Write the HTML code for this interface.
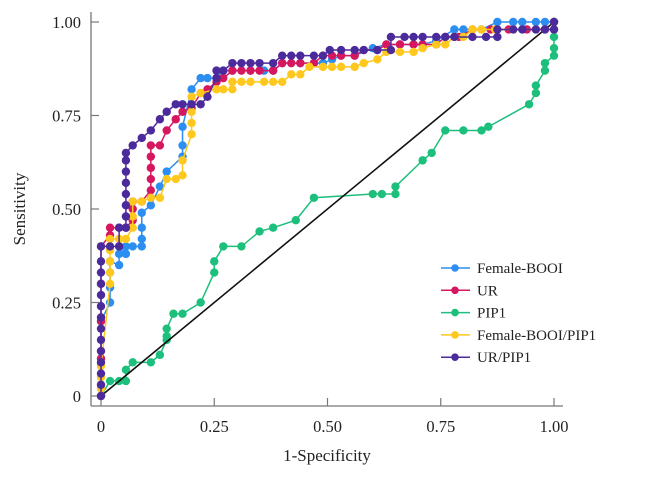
<!DOCTYPE html>
<html><head><meta charset="utf-8"><style>
html,body{margin:0;padding:0;background:#fff;width:662px;height:481px;overflow:hidden}
svg{display:block;font-family:"Liberation Serif",serif}
</style></head><body>
<svg id="chart" width="662" height="481" viewBox="0 0 662 481"></svg>
<script>
const xTicks=[0,0.25,0.5,0.75,1];
const xTickLabels=["0","0.25","0.50","0.75","1.00"];
const yTicks=[0,0.25,0.5,0.75,1];
const yTickLabels=["0","0.25","0.50","0.75","1.00"];
const seriesNames=["Female-BOOI","UR","PIP1","Female-BOOI/PIP1","UR/PIP1"];
const seriesColors=["#2b8ef0","#d6175f","#1dbf7c","#ffc81e","#4b2a9c"];
const femaleBooi=[[0,0],[0,.1],[0,.2],[.02,.25],[.02,.29],[.02,.33],[.02,.36],[.04,.35],[.04,.38],[.04,.40],[.055,.38],[.055,.40],[.07,.40],[.09,.40],[.09,.42],[.09,.45],[.09,.49],[.11,.51],[.13,.56],[.145,.60],[.18,.64],[.18,.67],[.18,.72],[.20,.82],[.22,.85],[.235,.85],[.255,.85],[.27,.87],[.29,.87],[.33,.87],[.36,.87],[.38,.87],[.40,.89],[.44,.89],[.47,.89],[.49,.89],[.51,.90],[.53,.91],[.56,.91],[.60,.93],[.63,.94],[.66,.94],[.69,.94],[.71,.94],[.74,.95],[.78,.98],[.80,.98],[.84,.98],[.875,1],[.91,1],[.93,1],[.96,1],[.98,1],[1,1]];
const ur=[[0,0],[0,.1],[0,.2],[0,.3],[0,.4],[.02,.43],[.02,.45],[.04,.45],[.055,.45],[.07,.47],[.07,.50],[.07,.52],[.09,.52],[.11,.55],[.11,.58],[.11,.61],[.11,.64],[.11,.67],[.13,.67],[.145,.71],[.165,.74],[.18,.76],[.20,.77],[.22,.81],[.235,.82],[.255,.84],[.27,.85],[.29,.87],[.31,.87],[.33,.87],[.35,.87],[.38,.87],[.40,.89],[.42,.89],[.44,.89],[.47,.89],[.49,.91],[.51,.91],[.53,.91],[.56,.91],[.58,.925],[.61,.925],[.63,.94],[.66,.94],[.69,.94],[.71,.94],[.74,.94],[.76,.96],[.79,.96],[.82,.98],[.86,.98],[.9,.98],[.94,.98],[.98,.98],[1,.98],[1,1]];
const pip1=[[0,0],[.02,.04],[.04,.04],[.055,.04],[.055,.07],[.07,.09],[.11,.09],[.13,.11],[.145,.15],[.145,.16],[.145,.18],[.16,.22],[.18,.22],[.22,.25],[.25,.33],[.25,.36],[.27,.40],[.31,.40],[.35,.44],[.38,.45],[.43,.47],[.47,.53],[.60,.54],[.62,.54],[.65,.54],[.65,.56],[.71,.63],[.73,.65],[.76,.71],[.80,.71],[.84,.71],[.855,.72],[.945,.78],[.96,.81],[.96,.83],[.98,.87],[.98,.89],[1,.91],[1,.93],[1,.96],[1,1]];
const femaleBooiPip1=[[0,0],[0,.02],[0,.05],[0,.08],[.02,.30],[.02,.33],[.02,.36],[.02,.39],[.02,.42],[.04,.42],[.055,.42],[.07,.45],[.07,.48],[.07,.52],[.09,.52],[.11,.53],[.13,.53],[.145,.58],[.165,.58],[.18,.59],[.18,.63],[.20,.70],[.20,.73],[.20,.76],[.20,.80],[.22,.81],[.255,.82],[.27,.82],[.29,.82],[.29,.84],[.31,.84],[.33,.84],[.36,.84],[.38,.84],[.40,.84],[.42,.86],[.44,.86],[.46,.88],[.49,.88],[.51,.88],[.53,.88],[.56,.88],[.58,.89],[.61,.90],[.63,.92],[.66,.92],[.69,.92],[.71,.93],[.74,.94],[.76,.94],[.78,.96],[.80,.96],[.82,.98],[.84,.98],[.87,.98],[.91,.98],[.96,.98],[1,.98],[1,1]];
const urPip1=[[0,0],[0,.03],[0,.06],[0,.09],[0,.12],[0,.15],[0,.18],[0,.21],[0,.24],[0,.27],[0,.30],[0,.33],[0,.36],[0,.40],[.02,.40],[.04,.40],[.04,.45],[.055,.45],[.055,.48],[.055,.51],[.055,.54],[.055,.57],[.055,.60],[.055,.63],[.055,.65],[.07,.67],[.09,.69],[.11,.71],[.13,.74],[.145,.76],[.165,.78],[.18,.78],[.20,.78],[.22,.78],[.235,.80],[.255,.85],[.255,.87],[.27,.87],[.29,.89],[.31,.89],[.33,.89],[.35,.89],[.38,.89],[.40,.91],[.42,.91],[.44,.91],[.47,.91],[.49,.91],[.505,.925],[.53,.925],[.56,.925],[.58,.925],[.61,.925],[.64,.925],[.64,.96],[.67,.96],[.69,.96],[.71,.96],[.74,.96],[.76,.96],[.78,.96],[.82,.96],[.85,.96],[.875,.96],[.875,.98],[.91,.98],[.93,.98],[.96,.98],[.98,.98],[1,.98],[1,1]];

const NS="http://www.w3.org/2000/svg";
const svg=document.getElementById("chart");
const X0=101,X1=554,Y0=396,Y1=22;
function sx(v){return X0+v*(X1-X0);}
function sy(v){return Y0-v*(Y0-Y1);}
function mk(tag,attrs,parent){const e=document.createElementNS(NS,tag);for(const k in attrs)e.setAttribute(k,attrs[k]);(parent||svg).appendChild(e);return e;}

let a=mk("line",{x1:91,y1:12,x2:91,y2:406,stroke:"#777","stroke-width":1.3});


a=mk("line",{x1:91,y1:406,x2:563,y2:406,stroke:"#777","stroke-width":1.3});


xTicks.forEach((t,i)=>{
  const l=mk("line",{x1:sx(t),y1:406,x2:sx(t),y2:398,stroke:"#777","stroke-width":1.2});
  
  
  const tx=mk("text",{x:sx(t),y:432,"text-anchor":"middle","font-size":16.5,fill:"#222"});
  tx.textContent=xTickLabels[i];
  
  
});
yTicks.forEach((t,i)=>{
  const l=mk("line",{x1:91,y1:sy(t),x2:99,y2:sy(t),stroke:"#777","stroke-width":1.2});
  
  
  const tx=mk("text",{x:81,y:sy(t)+6,"text-anchor":"end","font-size":16.5,fill:"#222"});
  tx.textContent=yTickLabels[i];
  
  
});
let t=mk("text",{x:327,y:461,"text-anchor":"middle","font-size":17,fill:"#222"});
t.textContent="1-Specificity";


t=mk("text",{x:0,y:0,"text-anchor":"middle","font-size":17,fill:"#222",transform:"translate(25,209) rotate(-90)"});
t.textContent="Sensitivity";



function drawSeries(data,color,name){
  const g=mk("g",{});
  
  
  const p=mk("polyline",{points:data.map(d=>sx(d[0])+","+sy(d[1])).join(" "),fill:"none",stroke:color,"stroke-width":1.5},g);
  
  
  data.forEach(d=>{
    const c=mk("circle",{cx:sx(d[0]),cy:sy(d[1]),r:4.2,fill:color},g);
    
    
  });
}
drawSeries(pip1,seriesColors[2],"pip1-series");
const diag=mk("line",{x1:sx(0),y1:sy(0),x2:sx(1),y2:sy(1),stroke:"#111","stroke-width":1.6});


drawSeries(femaleBooi,seriesColors[0],"female-booi-series");
drawSeries(ur,seriesColors[1],"ur-series");
drawSeries(femaleBooiPip1,seriesColors[3],"female-booi-pip1-series");
drawSeries(urPip1,seriesColors[4],"ur-pip1-series");

const lg=mk("g",{});


seriesNames.forEach((n,i)=>{
  const y=268+i*22.3;
  const e=mk("g",{},lg);
  
  
  mk("line",{x1:441,y1:y,x2:470,y2:y,stroke:seriesColors[i],"stroke-width":1.5},e);
  mk("circle",{cx:455,cy:y,r:3.8,fill:seriesColors[i]},e);
  const tx=mk("text",{x:477,y:y+5,"font-size":15,fill:"#222"},e);
  tx.textContent=n;
});
</script>
</body></html>
